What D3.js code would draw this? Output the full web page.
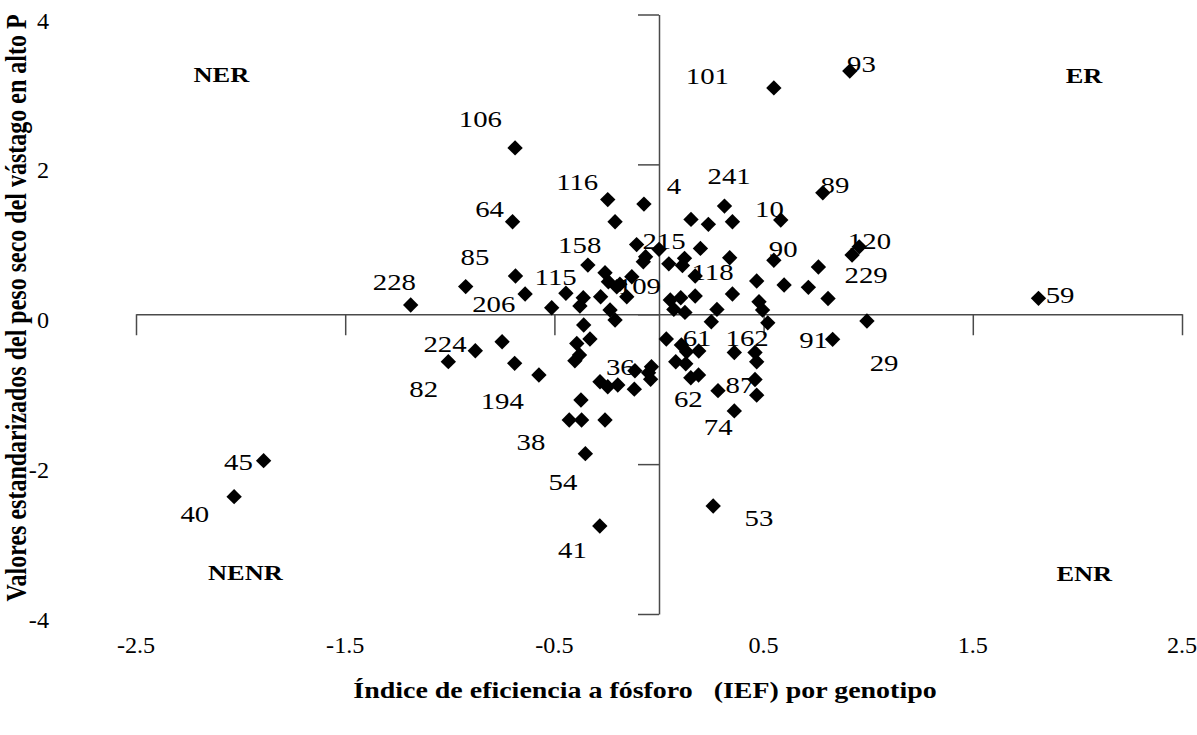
<!DOCTYPE html>
<html>
<head>
<meta charset="utf-8">
<script src="https://cdnjs.cloudflare.com/ajax/libs/d3/7.8.5/d3.min.js"></script>
<style>
  html, body { margin: 0; padding: 0; background: #fff; }
  svg { display: block; font-family: "Liberation Serif", "Times New Roman", serif; }
</style>
</head>
<body>
<div id="chart"></div>
<script>
// Índice de eficiencia a fósforo (IEF) por genotipo
const ief = [
  -0.688, -0.245, -0.072, -0.700, -0.210, -0.107, -0.340, -0.686, -0.258, -0.130,
  -0.242, -0.202, -0.154, -1.187, -0.924, -0.640, -0.445, -0.513, -0.362, -0.378,
  -0.279, -0.064, -0.075,  0.000, -0.234, -0.187,
   0.549,  0.912,  0.783,  0.153,  0.236,  0.313,  0.351,  0.582,  0.198,  0.122,
   0.112,  0.047,  0.338,  0.173,  0.549,  0.467,  0.598,  0.714,  0.762,  0.808,
   0.923,  0.957,  1.814,  0.351,  0.173,  0.104,  0.054,  0.071,  0.124,  0.277,
   0.478,  0.495,
   0.250,  0.520,  0.994,  0.830,  0.035,  0.080,  0.107,  0.132,  0.190,  0.128,
   0.152,  0.189,  0.360,  0.459,  0.467,  0.459,  0.467,  0.282,  0.360,  0.259,
  -0.878, -1.007, -0.750, -0.690, -0.574, -0.360, -0.210, -0.330, -0.393, -0.380,
  -0.402, -0.282, -0.245, -0.197, -0.115, -0.118, -0.040, -0.036, -0.050, -0.373,
  -0.429, -0.370, -0.258, -0.352, -0.283, -1.890, -2.031
];

// Valores estandarizados del peso seco del vástago en alto P
const peso = [
   2.220,  1.530,  1.470,  1.235,  1.235,  0.930,  0.656,  0.510,  0.554,  0.500,
   0.434,  0.367,  0.234,  0.124,  0.369,  0.270,  0.280,  0.087,  0.220,  0.110,
   0.234,  0.767,  0.700,  0.866,  0.056,  0.400,
   3.020,  3.245,  1.620,  1.266,  1.200,  1.443,  1.234,  1.257,  0.879,  0.746,
   0.650,  0.673,  0.754,  0.510,  0.720,  0.443,  0.390,  0.359,  0.630,  0.210,
   0.790,  0.900,  0.212,  0.270,  0.243,  0.220,  0.190,  0.065,  0.025,  0.065,
   0.167,  0.056,
  -0.100, -0.115, -0.090, -0.335, -0.330, -0.634, -0.410, -0.500, -0.490, -0.660,
  -0.848, -0.811, -0.510, -0.510, -0.634, -0.870, -1.080, -1.020, -1.290, -2.559,
  -0.487, -0.633, -0.367, -0.655, -0.811, -0.144, -0.077, -0.330, -0.390, -0.544,
  -0.620, -0.900, -0.967, -0.944, -0.754, -1.000, -0.868, -0.700, -0.780, -1.145,
  -1.411, -1.411, -1.411, -1.860, -2.825, -1.954, -2.434
];

// genotipos rotulados y posición del rótulo (unidades de los ejes)
const genotipos = ['106', '116', '64', '158', '85', '228', '115', '206', '109', '101',
  '93', '4', '241', '10', '89', '215', '90', '120', '118', '229', '59', '224', '82',
  '194', '38', '45', '40', '54', '41', '36', '61', '162', '91', '29', '87', '62', '74', '53'];
const rotuloX = [-0.854, -0.391, -0.810, -0.379, -0.880, -1.265, -0.494, -0.790, -0.094, 0.231,
  0.968, 0.071, 0.335, 0.528, 0.841, 0.024, 0.594, 1.006, 0.256, 0.990, 1.917, -1.023, -1.125,
  -0.749, -0.612, -2.010, -2.219, -0.459, -0.414, -0.185, 0.182, 0.421, 0.739, 1.076, 0.387,
  0.140, 0.283, 0.478];
const rotuloY = [2.613, 1.768, 1.413, 0.933, 0.767, 0.434, 0.500, 0.145, 0.390, 3.190,
  3.347, 1.724, 1.848, 1.413, 1.733, 0.990, 0.879, 0.990, 0.567, 0.532, 0.270, -0.388, -0.989,
  -1.145, -1.701, -1.968, -2.665, -2.235, -3.136, -0.700, -0.308, -0.308, -0.335, -0.647, -0.935,
  -1.122, -1.501, -2.709];

// cuadrantes
const cuadrantes = ['NER', 'ER', 'NENR', 'ENR'];
const cuadranteX = [-2.092, 2.032, -1.977, 2.033];
const cuadranteY = [3.204, 3.190, -3.435, -3.449];

const xTicks = [-2.5, -1.5, -0.5, 0.5, 1.5, 2.5];
const yTicks = [-4, -2, 0, 2, 4];

const width = 1197, height = 735;
const estirar = 'scale(1.2,1)'; // el original está ensanchado en horizontal

const svg = d3.select('#chart').append('svg')
  .attr('width', width)
  .attr('height', height);

const x = d3.scaleLinear().domain([-2.5, 2.5]).range([136, 1182]);
const y = d3.scaleLinear().domain([-4, 4]).range([614, 14.5]);

// ejes cruzados en el origen
const ejes = svg.append('g').attr('class', 'ejes');

ejes.append('g')
  .attr('transform', `translate(0,${y(0)})`)
  .call(d3.axisBottom(x).tickValues(xTicks).tickSize(21).tickSizeOuter(0).tickFormat(''));

ejes.append('g')
  .attr('transform', `translate(${x(0)},0)`)
  .call(d3.axisLeft(y).tickValues(yTicks).tickSize(21).tickSizeOuter(0).tickFormat(''));

ejes.selectAll('path, line').attr('stroke', '#4a4a4a').attr('stroke-width', 1.5);

// rótulos de los ticks, en el borde del gráfico
svg.append('g').selectAll('text')
  .data(xTicks)
  .join('text')
  .attr('transform', d => `translate(${x(d)},653) scale(1.05,1)`)
  .attr('text-anchor', 'middle')
  .style('font-size', '23px')
  .text(d => d.toFixed(1));

svg.append('g').selectAll('text')
  .data(yTicks)
  .join('text')
  .attr('transform', d => `translate(49,${y(d) + 14}) scale(1.05,1)`)
  .attr('text-anchor', 'end')
  .style('font-size', '23px')
  .text(d => String(d));

// títulos
svg.append('text')
  .attr('transform', `translate(645,698) ${estirar}`)
  .attr('text-anchor', 'middle')
  .style('font-size', '23.3px').style('font-weight', 'bold')
  .style('white-space', 'pre')
  .text('Índice de eficiencia a fósforo   (IEF) por genotipo');

svg.append('text')
  .attr('transform', `translate(26,308) ${estirar} rotate(-90)`)
  .attr('text-anchor', 'middle')
  .style('font-size', '24px').style('font-weight', 'bold')
  .text('Valores estandarizados del peso seco del vástago en alto P');

// cuadrantes
svg.append('g').selectAll('text')
  .data(cuadrantes)
  .join('text')
  .attr('transform', (d, i) => `translate(${x(cuadranteX[i])},${y(cuadranteY[i]) + 8}) ${estirar}`)
  .attr('text-anchor', 'middle')
  .style('font-size', '22px').style('font-weight', 'bold')
  .text(d => d);

// rótulos de genotipos (debajo de los marcadores)
svg.append('g').selectAll('text')
  .data(genotipos)
  .join('text')
  .attr('transform', (d, i) => `translate(${x(rotuloX[i])},${y(rotuloY[i]) + 8.5}) ${estirar}`)
  .attr('text-anchor', 'middle')
  .style('font-size', '24px')
  .text(d => d);

// marcadores en rombo
const puntos = d3.zip(ief, peso);
const rombo = d3.symbol(d3.symbolSquare, 118);

svg.append('g').selectAll('path')
  .data(puntos)
  .join('path')
  .attr('d', rombo)
  .attr('transform', d => `translate(${x(d[0])},${y(d[1])}) rotate(45)`)
  .attr('fill', '#000');
</script>
</body>
</html>
